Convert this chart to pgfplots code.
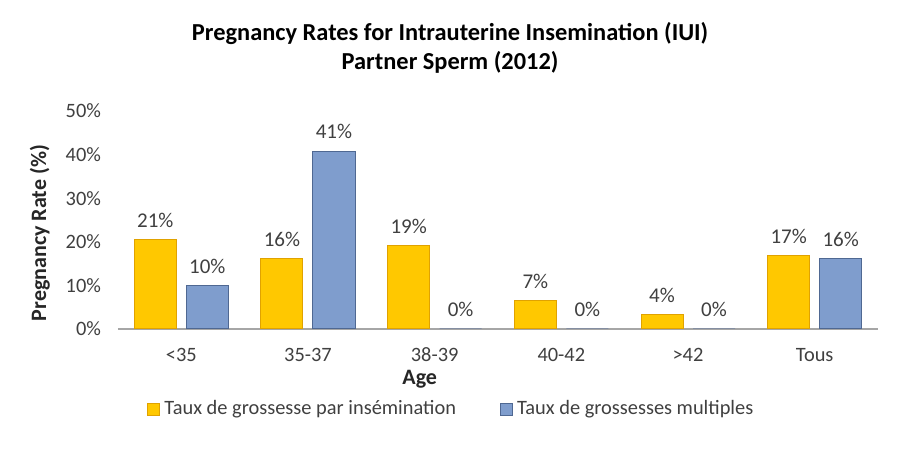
\documentclass[border=0pt]{standalone}
\usepackage{pgfplots}
\usepackage{pgfplotstable}
\pgfplotsset{compat=1.18}
\usepackage{fontspec}
\setmainfont{Carlito}
\definecolor{goldmid}{HTML}{FFC800}
\definecolor{goldedge}{HTML}{E0A200}
\definecolor{bluemid}{HTML}{7F9DCD}
\definecolor{blueedge}{HTML}{4F6892}
\definecolor{txt}{HTML}{404040}

\pgfplotstableread{
x g gl b bl
0 20.5 21 10.0 10
1 16.2 16 40.8 41
2 19.1 19 0 0
3 6.5 7 0 0
4 3.3 4 0 0
5 16.8 17 16.1 16
}\ratedata

\begin{document}
\begin{tikzpicture}
\fill[white] (-59pt,-65.5pt) rectangle (391pt,164.5pt);
\begin{axis}[
    scale only axis,
    width=380pt, height=109pt,
    ybar, bar width=21pt,
    xmin=-0.5, xmax=5.5,
    ymin=0, ymax=50,
    xtick=data,
    xticklabels={<35,35-37,38-39,40-42,>42,Tous},
    ytick={0,10,20,30,40,50},
    yticklabels={0\%,10\%,20\%,30\%,40\%,50\%},
    axis x line*=bottom,
    axis y line*=left,
    x axis line style={draw=gray!70, line width=0.6pt, -},
    y axis line style={draw=none},
    tick style={draw=none},
    ticklabel style={font=\fontsize{10.2}{12}\selectfont, text=txt},
    xticklabel style={yshift=-4pt, inner sep=1pt},
    yticklabel style={xshift=-5pt},
    ylabel={Pregnancy Rate (\%)},
    ylabel style={at={(rel axis cs:-0.103,0.44)}, anchor=center, rotate=0,
        font=\fontsize{11}{13}\selectfont\bfseries, text=black!85},
    xlabel={Age},
    xlabel style={at={(rel axis cs:0.397,-0.232)}, anchor=center, inner sep=0.5pt,
        font=\fontsize{11}{13}\selectfont\bfseries, text=black!85},
    title={Pregnancy Rates for Intrauterine Insemination (IUI)\\Partner Sperm (2012)},
    title style={at={(rel axis cs:0.437,1.234)}, anchor=center, align=center,
        font=\fontsize{12.2}{14.5}\selectfont\bfseries},
    nodes near coords={\pgfplotspointmeta\%},
    point meta=explicit symbolic,
    every node near coord/.append style={font=\fontsize{10.5}{12}\selectfont, text=txt, yshift=2.5pt},
    legend columns=2,
    legend style={at={(0.44,-0.367)}, anchor=center, draw=none, fill=none,
        font=\fontsize{10.2}{12}\selectfont, text=txt,
        /tikz/every even column/.append style={column sep=20pt}},
    legend image code/.code={\path[#1] (0pt,-3pt) rectangle (6pt,3pt);},
]
\addplot[draw=goldedge, line width=0.5pt, fill=goldmid, bar shift=-13pt]
    table[x=x, y=g, meta=gl] {\ratedata};
\addlegendentry{Taux de grossesse par insémination}
\addplot[draw=blueedge, line width=0.5pt, fill=bluemid, bar shift=13pt]
    table[x=x, y=b, meta=bl] {\ratedata};
\addlegendentry{Taux de grossesses multiples}
\end{axis}
\end{tikzpicture}
\end{document}
